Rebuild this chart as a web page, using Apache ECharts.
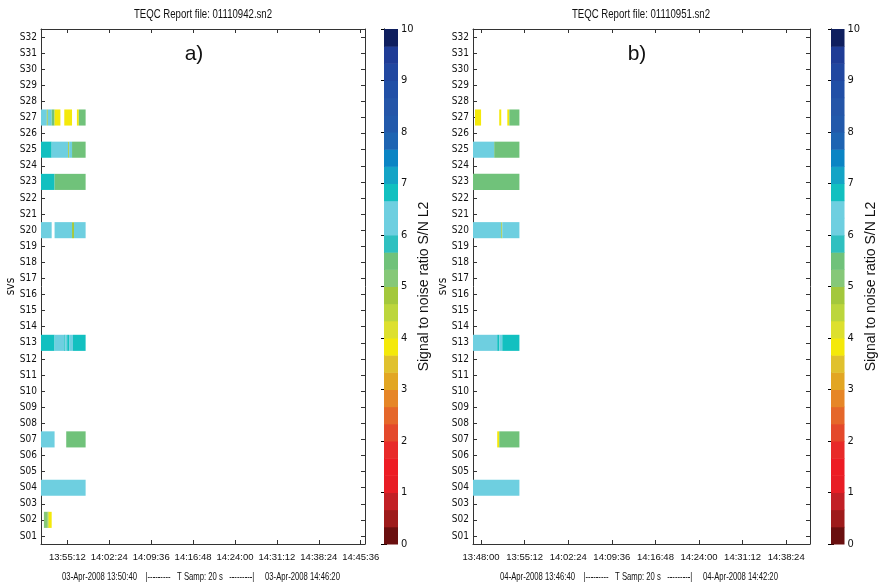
<!DOCTYPE html>
<html>
<head>
<meta charset="utf-8">
<script src="https://cdn.jsdelivr.net/npm/echarts@6/dist/echarts.min.js"></script>
<style>
html,body{margin:0;padding:0;background:#fff;}
#chart{width:879px;height:588px;}
</style>
</head>
<body>
<div id="chart"></div>
<script>
// ---------------- data ----------------
const SV_LABELS = ['S01','S02','S03','S04','S05','S06','S07','S08','S09','S10','S11','S12','S13','S14','S15','S16',
  'S17','S18','S19','S20','S21','S22','S23','S24','S25','S26','S27','S28','S29','S30','S31','S32'];

const X_RANGE_A = ['13:50:40', '14:46:20'];
const X_TICKS_A = ['13:55:12','14:02:24','14:09:36','14:16:48','14:24:00','14:31:12','14:38:24','14:45:36'];
const X_RANGE_B = ['13:46:40', '14:42:20'];
const X_TICKS_B = ['13:48:00','13:55:12','14:02:24','14:09:36','14:16:48','14:24:00','14:31:12','14:38:24'];

const CB_TICKS = [0,1,2,3,4,5,6,7,8,9,10];

// segments: [satellite, start, end, S/N L2]
const SEGMENTS_A = [
  ['S27','13:50:40','13:51:40',6.4], ['S27','13:51:40','13:51:50',4.8], ['S27','13:51:50','13:52:30',6.4],
  ['S27','13:52:30','13:53:00',5.4], ['S27','13:53:00','13:54:00',3.8], ['S27','13:54:40','13:56:00',3.8],
  ['S27','13:56:50','13:57:10',3.8], ['S27','13:57:10','13:58:20',5.4],
  ['S25','13:50:40','13:52:30',6.8], ['S25','13:52:30','13:55:20',6.4], ['S25','13:55:20','13:55:30',4.8],
  ['S25','13:55:30','13:56:00',6.4], ['S25','13:56:00','13:58:20',5.4],
  ['S23','13:50:40','13:53:00',6.8], ['S23','13:53:00','13:58:20',5.4],
  ['S20','13:50:40','13:52:30',6.4], ['S20','13:53:00','13:56:00',6.4], ['S20','13:56:00','13:56:20',4.8],
  ['S20','13:56:20','13:58:20',6.4],
  ['S13','13:50:40','13:53:00',6.8], ['S13','13:53:00','13:54:40',6.4], ['S13','13:54:40','13:54:50',6.8],
  ['S13','13:54:50','13:55:10',6.4], ['S13','13:55:10','13:55:30',6.8], ['S13','13:55:30','13:56:10',6.4],
  ['S13','13:56:10','13:58:20',6.8],
  ['S07','13:50:40','13:53:00',6.4], ['S07','13:55:00','13:58:20',5.4],
  ['S04','13:50:40','13:58:20',6.4],
  ['S02','13:51:10','13:51:50',5.1], ['S02','13:51:50','13:52:00',4.5], ['S02','13:52:00','13:52:30',3.8]
];

const SEGMENTS_B = [
  ['S27','13:47:00','13:48:00',3.8], ['S27','13:51:00','13:51:20',3.8], ['S27','13:52:20','13:52:40',3.8],
  ['S27','13:52:40','13:54:20',5.4],
  ['S25','13:46:40','13:50:10',6.4], ['S25','13:50:10','13:54:20',5.4],
  ['S23','13:46:40','13:54:20',5.4],
  ['S20','13:46:40','13:51:20',6.4], ['S20','13:51:20','13:51:30',4.8], ['S20','13:51:30','13:54:20',6.4],
  ['S13','13:46:40','13:50:40',6.4], ['S13','13:50:40','13:51:00',6.8], ['S13','13:51:00','13:51:30',6.4],
  ['S13','13:51:30','13:54:20',6.8],
  ['S07','13:50:40','13:51:00',3.8], ['S07','13:51:00','13:54:20',5.4],
  ['S04','13:46:40','13:54:20',6.4]
];

// colormap: 30 levels, 0..10 (bottom to top)
const CMAP = ['#6a0f0f','#9e1b1b','#c22026','#e81d25','#ed1c24','#e82a29','#e4492b','#e5672a','#e68627','#e2a623',
  '#e0c12e','#f4e90a','#dde02e','#bcd63c','#a3c83c','#86c878','#70c27a','#2fc0c0','#6ecfe0','#6ecfe0',
  '#12c0c0','#14a4c6','#0a84c4','#1e64b2','#2259ab','#2455a8','#214fa6','#2147a0','#1f3c96','#0f1f5f'];

// ---------------- helpers ----------------
function t2s(s){ const p = s.split(':').map(Number); return p[0]*3600 + p[1]*60 + p[2]; }
function pad(n){ return (n < 10 ? '0' : '') + n; }
function s2t(v){ v = Math.round(v); return pad(Math.floor(v/3600)) + ':' + pad(Math.floor(v%3600/60)) + ':' + pad(v%60); }
function colorFor(v){ let i = Math.floor(v * CMAP.length / 10); i = Math.max(0, Math.min(CMAP.length-1, i)); return CMAP[i]; }

const FONT = "'DejaVu Sans Condensed','Liberation Sans',sans-serif";
const SANS = "'Liberation Sans',Arial,sans-serif";
const TXT = '#111';

function segData(segs){ return segs.map(s => [SV_LABELS.indexOf(s[0]), t2s(s[1]), t2s(s[2]), s[3]]); }
const cbData = CMAP.map((c, i) => [i*10/CMAP.length, (i+1)*10/CMAP.length, i]);

function renderSeg(params, api){
  const yi = api.value(0);
  const p0 = api.coord([api.value(1), yi]);
  const p1 = api.coord([api.value(2), yi]);
  const h = api.size([0, 1])[1];
  return { type: 'rect', shape: { x: p0[0], y: p0[1] - h/2, width: p1[0] - p0[0], height: h },
    style: { fill: colorFor(api.value(3)) } };
}
function renderCb(params, api){
  const a = api.coord([0, api.value(1)]);
  const b = api.coord([1, api.value(0)]);
  return { type: 'rect', shape: { x: a[0], y: a[1], width: b[0]-a[0], height: b[1]-a[1] + 0.5 },
    style: { fill: CMAP[api.value(2)] } };
}

const lineStyle = { color: '#333', width: 1 };

function timeAxes(grid, range, ticks){
  const tv = ticks.map(t2s);
  return [
    { type: 'value', gridIndex: grid, min: t2s(range[0]), max: t2s(range[1]), position: 'bottom',
      axisLine: { show: true, lineStyle }, splitLine: { show: false },
      axisTick: { show: true, inside: true, length: 4, lineStyle, customValues: tv },
      axisLabel: { customValues: tv, formatter: v => s2t(v), fontFamily: SANS, fontSize: 9.5, color: TXT, margin: 8,
        hideOverlap: false, showMinLabel: true, showMaxLabel: true } },
    { type: 'value', gridIndex: grid, min: t2s(range[0]), max: t2s(range[1]), position: 'top',
      axisLine: { show: true, lineStyle }, splitLine: { show: false },
      axisTick: { show: true, inside: true, length: 4, lineStyle, customValues: tv },
      axisLabel: { show: false } }
  ];
}
function cbXAxis(grid){
  return { type: 'value', gridIndex: grid, min: 0, max: 1, show: false };
}
function svAxes(grid){
  return [
    { type: 'category', gridIndex: grid, data: SV_LABELS, position: 'left',
      name: 'svs', nameLocation: 'middle', nameRotate: 90, nameGap: 24, nameMoveOverlap: false,
      nameTextStyle: { fontFamily: FONT, fontSize: 12, color: TXT },
      axisLine: { show: true, lineStyle }, splitLine: { show: false },
      axisTick: { show: true, inside: true, length: 4, alignWithLabel: true, interval: 0, lineStyle },
      axisLabel: { interval: 0, fontFamily: FONT, fontSize: 10, color: TXT, margin: 4 } },
    { type: 'category', gridIndex: grid, data: SV_LABELS, position: 'right',
      axisLine: { show: true, lineStyle }, splitLine: { show: false },
      axisTick: { show: true, inside: true, length: 4, alignWithLabel: true, interval: 0, lineStyle },
      axisLabel: { show: false } }
  ];
}
function cbYAxes(grid, gap){
  return [
    { type: 'value', gridIndex: grid, min: 0, max: 10, position: 'right',
      name: 'Signal to noise ratio S/N L2', nameLocation: 'middle', nameRotate: 90, nameGap: gap,
      nameTextStyle: { fontFamily: SANS, fontSize: 14, color: TXT },
      axisLine: { show: true, lineStyle }, splitLine: { show: false },
      axisTick: { show: true, inside: true, length: 3, lineStyle: { color: '#000', width: 1 }, customValues: CB_TICKS },
      axisLabel: { customValues: CB_TICKS, fontFamily: FONT, fontSize: 11, color: TXT, margin: 3 } },
    { type: 'value', gridIndex: grid, min: 0, max: 10, position: 'left',
      axisLine: { show: true, lineStyle }, splitLine: { show: false },
      axisTick: { show: true, inside: true, length: 3, lineStyle: { color: '#000', width: 1 }, customValues: CB_TICKS },
      axisLabel: { show: false } }
  ];
}

const xAxes = [].concat(timeAxes(0, X_RANGE_A, X_TICKS_A), [cbXAxis(1)], timeAxes(2, X_RANGE_B, X_TICKS_B), [cbXAxis(3)]);
const yAxes = [].concat(svAxes(0), cbYAxes(1, 18), svAxes(2), cbYAxes(3, 14));

function txt(x, y, s, size, fam, sx){
  return { type: 'text', x, y, scaleX: sx || 1,
    style: { text: s, fontFamily: fam || SANS, fontSize: size, fill: TXT, align: 'center', verticalAlign: 'middle' } };
}

const FOOT_A = '03-Apr-2008 13:50:40    |---------   T Samp: 20 s   ---------|     03-Apr-2008 14:46:20';
const FOOT_B = '04-Apr-2008 13:46:40    |---------   T Samp: 20 s   ---------|     04-Apr-2008 14:42:20';

const option = {
  animation: false,
  backgroundColor: '#fff',
  grid: [
    { left: 41, top: 29, width: 324, height: 515 },
    { left: 384, top: 29, width: 14, height: 515 },
    { left: 473, top: 29, width: 337, height: 515 },
    { left: 831, top: 29, width: 14, height: 515 }
  ],
  xAxis: xAxes,
  yAxis: yAxes,
  graphic: [
    txt(203, 14, 'TEQC Report file: 01110942.sn2', 13, SANS, 0.74),
    txt(641, 14, 'TEQC Report file: 01110951.sn2', 13, SANS, 0.74),
    txt(194, 54, 'a)', 21, SANS),
    txt(637, 54, 'b)', 21, SANS),
    txt(201, 577, FOOT_A, 11, SANS, 0.7),
    txt(639, 577, FOOT_B, 11, SANS, 0.7)
  ],
  series: [
    { type: 'custom', xAxisIndex: 0, yAxisIndex: 0, renderItem: renderSeg, encode: { x: [1, 2], y: 0 }, data: segData(SEGMENTS_A), z: 1 },
    { type: 'custom', xAxisIndex: 2, yAxisIndex: 2, renderItem: renderCb, encode: { y: [0, 1] }, data: cbData, z: 1 },
    { type: 'custom', xAxisIndex: 3, yAxisIndex: 4, renderItem: renderSeg, encode: { x: [1, 2], y: 0 }, data: segData(SEGMENTS_B), z: 1 },
    { type: 'custom', xAxisIndex: 5, yAxisIndex: 6, renderItem: renderCb, encode: { y: [0, 1] }, data: cbData, z: 1 }
  ]
};

const chart = echarts.init(document.getElementById('chart'), null, { renderer: 'canvas' });
chart.setOption(option);
</script>
</body>
</html>
